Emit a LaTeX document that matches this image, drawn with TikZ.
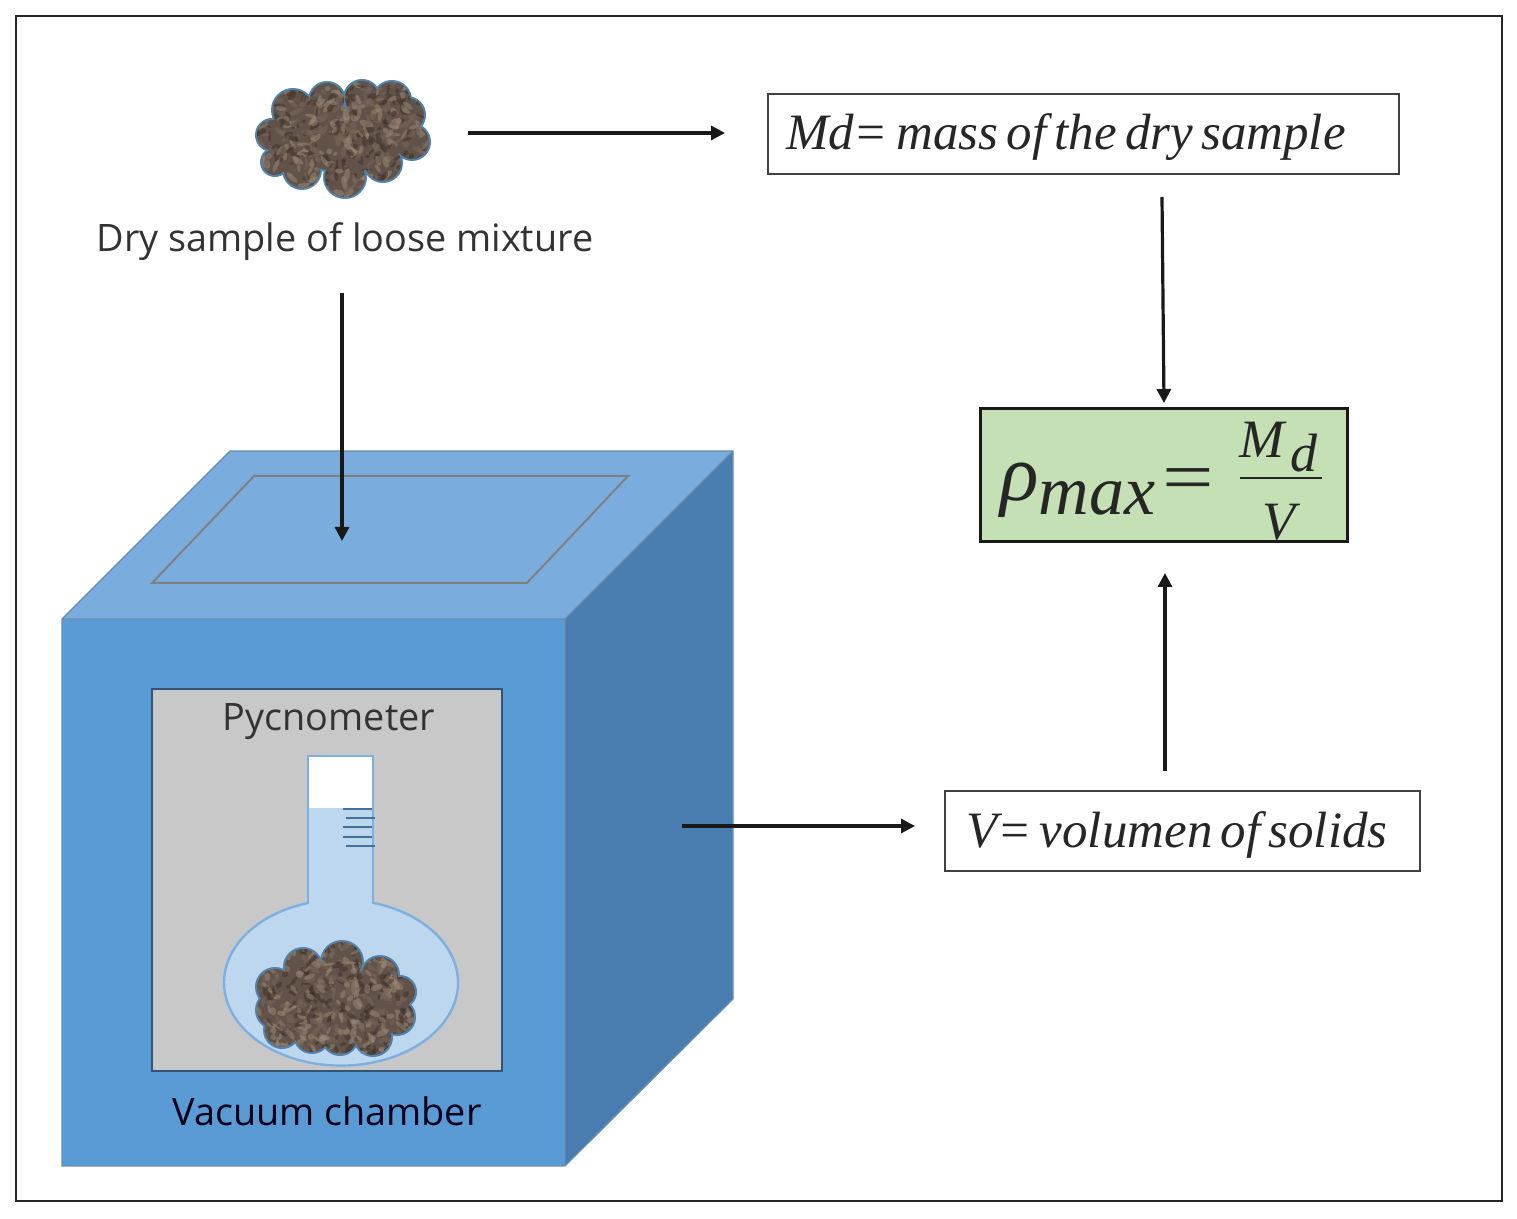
\documentclass[tikz,border=0pt]{standalone}
\usepackage{fontspec}
\setmainfont{Open Sans}
\newfontfamily\serifit[ItalicFont=Liberation Serif Italic]{Liberation Serif}
\newfontfamily\boxit{Liberation Serif Italic}
\definecolor{front}{HTML}{5B9BD5}
\definecolor{topf}{HTML}{7AADDE}
\definecolor{sidef}{HTML}{4A7DAF}
\definecolor{cham}{HTML}{C8C8C8}
\definecolor{flaskfill}{HTML}{BDD7EE}
\definecolor{flaskedge}{HTML}{7DB0E0}
\definecolor{tick}{HTML}{41719C}
\definecolor{soilbase}{HTML}{62534A}
\definecolor{soildark}{HTML}{40342B}
\definecolor{soilmid}{HTML}{75655A}
\definecolor{soillight}{HTML}{978674}
\definecolor{eqfill}{HTML}{C5E0B4}
\definecolor{soiledge}{HTML}{4F84B0}
\newcommand{\soilcloud}[6]{% list, xmin, xmax, ymin, ymax, seed
  \fill[soiledge] \foreach \a/\b/\r in {#1} {(\a,\b) circle[radius=\r*0.5pt+1pt]};
  \begin{scope}
    \clip \foreach \a/\b/\r in {#1} {(\a,\b) circle[radius=\r*0.5pt]};
    \fill[soilbase] (#2,#4) rectangle (#3,#5);
    \pgfmathsetseed{#6}
    \foreach \i in {1,...,650} {
      \pgfmathsetmacro{\px}{#2+rnd*(#3-#2)}
      \pgfmathsetmacro{\py}{#4+rnd*(#5-#4)}
      \pgfmathsetmacro{\ang}{rnd*180}
      \pgfmathsetmacro{\la}{1.2+rnd*2.4}
      \pgfmathsetmacro{\lb}{0.6+rnd*1.0}
      \pgfmathtruncatemacro{\pick}{int(rnd*3)}
      \ifcase\pick\relax\def\cc{soildark}\or\def\cc{soilmid}\else\def\cc{soillight}\fi
      \fill[\cc,opacity=.55,rotate around={\ang:(\px,\py)}] (\px,\py) ellipse[x radius=\la pt,y radius=\lb pt];
    }
  \end{scope}
}
\newcommand{\boxtext}[1]{\raisebox{-2pt}{\spaceskip=.16em\relax\xspaceskip=.16em\relax #1}}
\usetikzlibrary{arrows.meta}
\tikzset{
  x=0.5pt,y=-0.5pt,
  arr/.style={line width=1.6pt,-{Triangle[length=7pt,width=7pt]},black!90},
  txtbox/.style={draw=black!75,line width=1pt,fill=white,anchor=north west,inner ysep=0pt,minimum height=40pt,font=\boxit\fontsize{25.5}{28}\selectfont,text=black!85,inner xsep=0pt},
  lab/.style={font=\fontsize{18.9}{22}\selectfont,text=black!80,inner sep=0pt},
  eq/.style={font=\serifit\itshape,text=black!85,inner sep=0pt}
}
\begin{document}
\begin{tikzpicture}
\useasboundingbox (0,0) rectangle (1517,1219);
\fill[white] (0,0) rectangle (1517,1219);
\draw[black!85,line width=1pt] (16,16) rectangle (1502,1201);
% cube
\fill[topf] (62,619) -- (230,451) -- (733,451) -- (565,619) -- cycle;
\fill[sidef] (565,619) -- (733,451) -- (733,999) -- (565,1166) -- cycle;
\fill[front] (62,619) rectangle (565,1166);
\draw[tick!80,line width=0.6pt] (62,619) -- (230,451) -- (733,451) -- (733,999) -- (565,1166) -- (62,1166) -- cycle (62,619) -- (565,619) -- (733,451) (565,619) -- (565,1166);
\draw[black!50,line width=1pt] (152,583) -- (254,476) -- (628,476) -- (527,583) -- cycle;
\fill[cham,draw=black!45!front,line width=0.7pt] (152,689) rectangle (502,1071);
% flask
\path[fill=flaskfill] (341,982) ellipse[x radius=117,y radius=83];
\draw[flaskedge,line width=1.2pt] (308,903) arc[start angle=253.6,end angle=-73.6,x radius=117,y radius=83];
\fill[flaskfill] (308,808) rectangle (373,906);
\fill[white] (308,756) rectangle (373,808);
\draw[flaskedge,line width=1.2pt] (308,904) -- (308,756) -- (373,756) -- (373,904);
\foreach \ya/\xa in {809/343,818/346,827/343,837/343,846/346}
  \draw[tick,line width=1pt] (\xa,\ya) -- ++(29,0);
% soil samples
\soilcloud{293/110/20,327/100/17,362/98/17,392/100/18,407/115/17,412/142/17,272/135/15,275/162/13,302/170/18,345/177/20,383/163/18,330/137/33,370/137/33,300/135/30}{250}{435}{75}{200}{11}
\soilcloud{275/987/18,303/967/18,342/962/20,380/975/18,400/992/15,397/1017/17,373/1037/18,340/1037/17,312/1035/17,282/1030/17,275/1010/18,333/1000/40,293/1003/30,367/1003/30}{250}{422}{935}{1062}{29}
% labels
\node[lab] (dry) at (345,242) {Dry sample of loose mixture};
\node[lab] (pyc) at (329,722) {Pycnometer};
\node[lab,text=black!90!blue] (vac) at (327,1111) {Vacuum chamber};
% boxes
\node[txtbox,minimum width=315.5pt] (md) at (767,93) {};
\node[txtbox,minimum width=237.5pt] (v) at (944,790) {};
\node[txtbox,draw=none,fill=none,anchor=west] (mdt) at (785,137) {\boxtext{Md= mass of the dry sample}};
\node[txtbox,draw=none,fill=none,anchor=west] (vt) at (965,835) {\boxtext{V= volumen of solids}};
\node[draw=black!90,line width=1.4pt,fill=eqfill,minimum width=183.5pt,minimum height=66.5pt,inner sep=0pt] (eq) at (1164,475) {};
\node[eq,font=\serifit\itshape\fontsize{40}{40}\selectfont] (rho) at (1020,490) {ρ};
\node[eq,font=\serifit\itshape\fontsize{35}{35}\selectfont] (max) at (1097,498) {max};
\node[eq,font=\serifit\fontsize{36}{36}\selectfont,xscale=1.27,transform shape] (eqs) at (1188,485) {=};
\node[eq,font=\serifit\itshape\fontsize{27}{27}\selectfont] (mm) at (1262,440) {M};
\node[eq,font=\serifit\itshape\fontsize{27}{27}\selectfont] (dd) at (1304,453) {d};
\node[eq,font=\serifit\itshape\fontsize{27}{27}\selectfont] (vv) at (1279,522) {V};
\draw[line width=1.4pt,black!85] (1240,478) -- (1322,478);
% connector ends
\coordinate (a1) at (468,133);
\coordinate (a2) at (725,133);
\coordinate (b1) at (1162,197);
\coordinate (b2) at (1164,403);
\coordinate (c1) at (342,293);
\coordinate (c2) at (342,541);
\coordinate (d1) at (682,826);
\coordinate (d2) at (915,826);
\coordinate (e1) at (1165,771);
\coordinate (e2) at (1165,573);
\draw[arr] (a1) -- (a2);
\draw[arr] (b1) -- (b2);
\draw[arr] (c1) -- (c2);
\draw[arr] (d1) -- (d2);
\draw[arr] (e1) -- (e2);
\end{tikzpicture}
\end{document}
